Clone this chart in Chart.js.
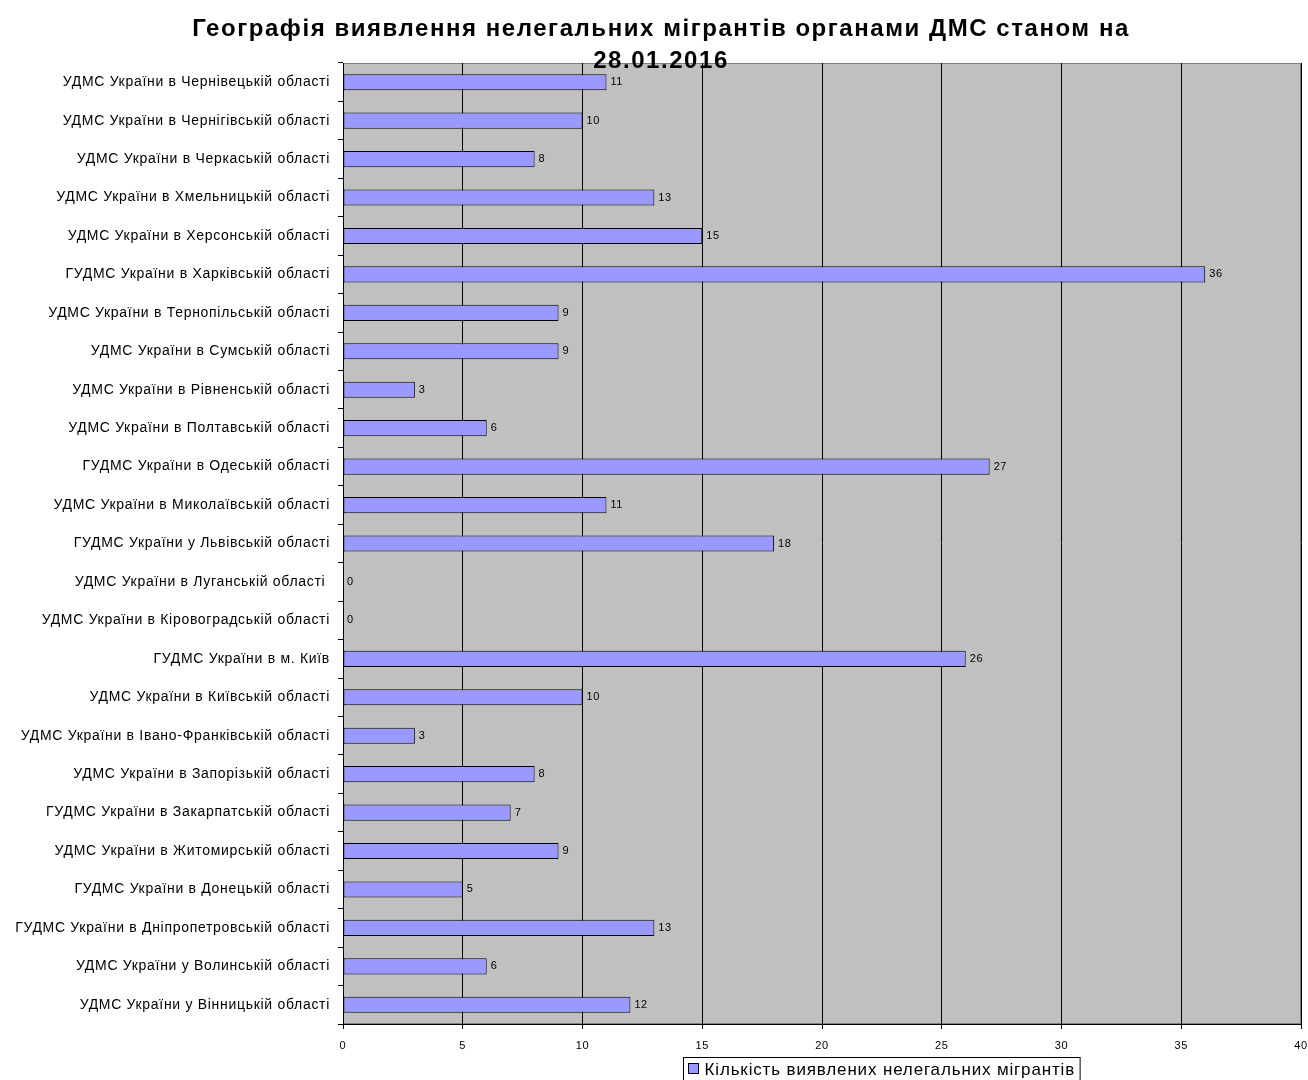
<!DOCTYPE html>
<html>
<head>
<meta charset="utf-8">
<script src="https://cdn.jsdelivr.net/npm/chart.js@4/dist/chart.umd.min.js"></script>
<style>
  html, body { margin: 0; padding: 0; background: #fff; }
  #wrap { width: 1308px; height: 1080px; position: relative; }
</style>
</head>
<body>
<div id="wrap"><canvas id="migrantsChart"></canvas></div>
<script>
const titleLines = ['Географія виявлення нелегальних мігрантів органами ДМС станом на', '28.01.2016'];
const seriesName = 'Кількість виявлених нелегальних мігрантів';

// bottom to top, as in the source table
const regions = [
  'УДМС України у Вінницькій області',
  'УДМС України у Волинській області',
  'ГУДМС України в Дніпропетровській області',
  'ГУДМС України в Донецькій області',
  'УДМС України в Житомирській області',
  'ГУДМС України в Закарпатській області',
  'УДМС України в Запорізькій області',
  'УДМС України в Івано-Франківській області',
  'УДМС України в Київській області',
  'ГУДМС України в м. Київ',
  'УДМС України в Кіровоградській області',
  'УДМС України в Луганській області ',
  'ГУДМС України у Львівській області',
  'УДМС України в Миколаївській області',
  'ГУДМС України в Одеській області',
  'УДМС України в Полтавській області',
  'УДМС України в Рівненській області',
  'УДМС України в Сумській області',
  'УДМС України в Тернопільській області',
  'ГУДМС України в Харківській області',
  'УДМС України в Херсонській області',
  'УДМС України в Хмельницькій області',
  'УДМС України в Черкаській області',
  'УДМС України в Чернігівській області',
  'УДМС України в Чернівецькій області',
];
const migrants = [12, 6, 13, 5, 9, 7, 8, 3, 10, 26, 0, 0, 18, 11, 27, 6, 3, 9, 9, 36, 15, 13, 8, 10, 11];

const xMin = 0;
const xMax = 40;
const xStep = 5;

const barFill = '#9999FF';
const plotFill = '#C0C0C0';
const fontName = '"Liberation Sans", Arial, sans-serif';

const plotBackground = {
  id: 'plotBackground',
  beforeDraw(chart) {
    const { ctx, chartArea: a } = chart;
    ctx.save();
    ctx.fillStyle = plotFill;
    ctx.fillRect(a.left, a.top, a.right - a.left, a.bottom - a.top);
    ctx.strokeStyle = '#808080';
    ctx.lineWidth = 1;
    ctx.strokeRect(a.left + 0.5, a.top + 0.5, a.right - a.left - 1, a.bottom - a.top - 1);
    ctx.restore();
    // the source renders its text slightly spaced out
    ctx.letterSpacing = '0.7px';
  },
};

const valueLabels = {
  id: 'valueLabels',
  afterDatasetsDraw(chart) {
    const { ctx } = chart;
    const meta = chart.getDatasetMeta(0);
    ctx.save();
    ctx.font = '11px ' + fontName;
    ctx.letterSpacing = '0.6px';
    ctx.fillStyle = '#000';
    ctx.textBaseline = 'middle';
    meta.data.forEach((bar, i) => {
      ctx.fillText(String(migrants[i]), bar.x + 4, bar.y);
    });
    ctx.restore();
  },
};

const titleAndLegend = {
  id: 'titleAndLegend',
  afterDraw(chart) {
    const { ctx } = chart;
    ctx.save();
    ctx.fillStyle = '#000';
    ctx.textAlign = 'center';
    ctx.textBaseline = 'alphabetic';
    ctx.font = 'bold 24px ' + fontName;
    ctx.letterSpacing = '1.55px';
    ctx.fillText(titleLines[0], 661, 36);
    ctx.fillText(titleLines[1], 661, 68);

    // legend box
    ctx.font = '17px ' + fontName;
    ctx.letterSpacing = '0.85px';
    ctx.textAlign = 'left';
    const textW = ctx.measureText(seriesName).width;
    const boxX = 683.5, boxY = 1057.5, boxH = 24;
    const boxW = 22 + textW + 4;
    ctx.fillStyle = '#fff';
    ctx.fillRect(boxX, boxY, boxW, boxH);
    ctx.strokeStyle = '#000';
    ctx.lineWidth = 1;
    ctx.strokeRect(boxX, boxY, boxW, boxH);
    ctx.fillStyle = barFill;
    ctx.fillRect(boxX + 5, boxY + 6, 10, 10);
    ctx.strokeRect(boxX + 5, boxY + 6, 10, 10);
    ctx.fillStyle = '#000';
    ctx.fillText(seriesName, boxX + 21, boxY + 17);
    ctx.restore();
  },
};

new Chart(document.getElementById('migrantsChart'), {
  type: 'bar',
  data: {
    labels: regions,
    datasets: [
      {
        label: seriesName,
        data: migrants,
        backgroundColor: barFill,
        borderColor: '#000',
        borderWidth: 1,
        borderSkipped: false,
        barPercentage: 0.42,
        categoryPercentage: 1,
      },
    ],
  },
  options: {
    indexAxis: 'y',
    responsive: true,
    maintainAspectRatio: false,
    animation: false,
    layout: { padding: { top: 63, right: 7, left: 0, bottom: 0 } },
    plugins: {
      legend: { display: false },
      title: { display: false },
      tooltip: { enabled: false },
    },
    scales: {
      x: {
        min: xMin,
        max: xMax,
        ticks: {
          stepSize: xStep,
          color: '#000',
          font: { family: fontName, size: 11 },
          padding: 10,
          maxRotation: 0,
        },
        grid: { color: '#000', lineWidth: 1, tickLength: 5, drawTicks: true },
        border: { color: '#000', width: 1 },
        afterFit(scale) {
          scale.height = 56;
          scale.paddingRight = 0;
          scale.paddingLeft = 0;
        },
      },
      y: {
        reverse: true,
        ticks: {
          color: '#000',
          font: { family: fontName, size: 14 },
          padding: 8,
          autoSkip: false,
        },
        grid: { drawOnChartArea: false, offset: true, color: '#000', tickLength: 5 },
        border: { color: '#000', width: 1 },
        afterFit(scale) { scale.width = 343; },
      },
    },
  },
  plugins: [plotBackground, valueLabels, titleAndLegend],
});
</script>
</body>
</html>
